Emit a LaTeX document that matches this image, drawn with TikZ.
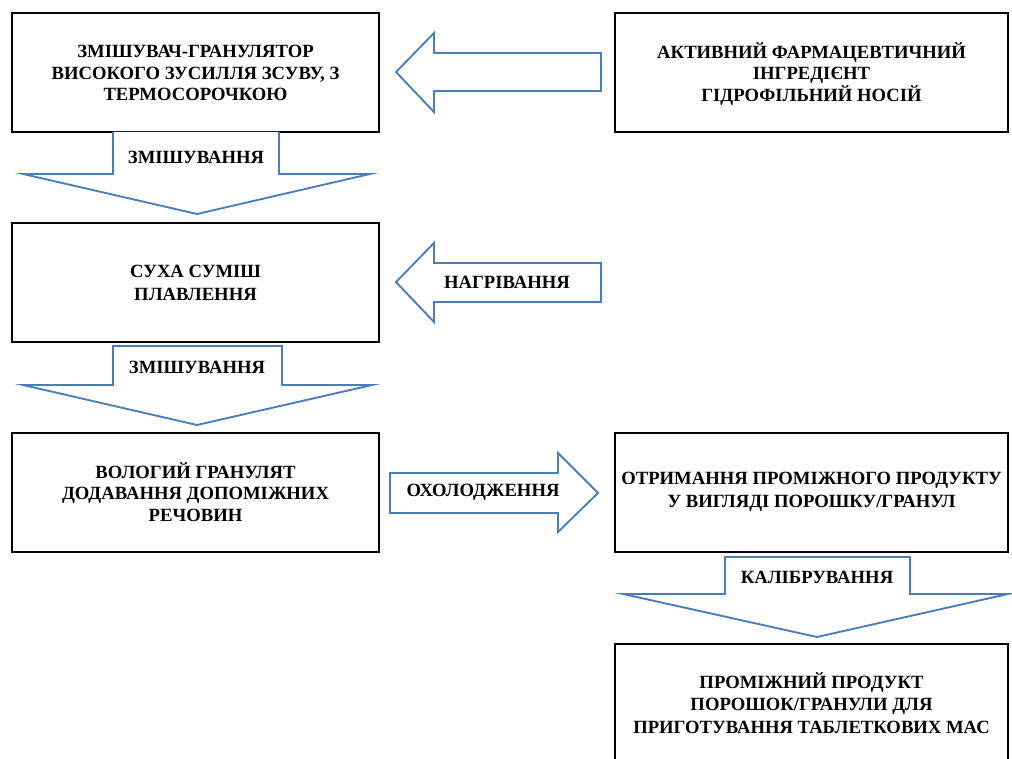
\documentclass[tikz,border=0pt]{standalone}
\usepackage{fontspec}
\setmainfont{Liberation Serif}
\definecolor{arrowblue}{HTML}{4A7EBB}
\tikzset{
  box/.style={draw=black, line width=1.5pt},
  blockarrow/.style={draw=arrowblue, line width=1.4pt, fill=white, line join=miter},
  txt/.style={font=\bfseries\fontsize{14}{16.3}\selectfont, align=center, inner sep=0pt, text=black},
  lbl/.style={font=\bfseries\fontsize{14}{16}\selectfont, inner sep=0pt, text=black}
}
\begin{document}
\begin{tikzpicture}[x=0.75pt, y=-0.75pt]
\useasboundingbox (0,0) rectangle (1012,759);
\clip (0,0) rectangle (1012,759);
% boxes
\draw[box] (12,13) rectangle (379,132);
\draw[box] (615,13) rectangle (1008,132);
\draw[box] (12,223) rectangle (379,342);
\draw[box] (12,433) rectangle (379,552);
\draw[box] (615,433) rectangle (1008,552);
\draw[box] (615,644) rectangle (1008,790);
\node[txt] (b1) at (195.5,73) {ЗМІШУВАЧ-ГРАНУЛЯТОР\\ВИСОКОГО ЗУСИЛЛЯ ЗСУВУ, З\\ТЕРМОСОРОЧКОЮ};
\node[txt] (b2) at (811.5,74) {АКТИВНИЙ ФАРМАЦЕВТИЧНИЙ\\ІНГРЕДІЄНТ\\ГІДРОФІЛЬНИЙ НОСІЙ};
\node[txt, font=\bfseries\fontsize{14}{17}\selectfont] (b3) at (195.5,283) {СУХА СУМІШ\\ПЛАВЛЕННЯ};
\node[txt] (b4) at (195.5,492) {ВОЛОГИЙ ГРАНУЛЯТ\\ДОДАВАННЯ ДОПОМІЖНИХ\\РЕЧОВИН};
\node[txt, font=\bfseries\fontsize{14}{17.3}\selectfont] (b5) at (811.5,491.5) {ОТРИМАННЯ ПРОМІЖНОГО ПРОДУКТУ\\У ВИГЛЯДІ ПОРОШКУ/ГРАНУЛ};
\node[txt, font=\bfseries\fontsize{14}{16.7}\selectfont] (b6) at (811.5,703) {ПРОМІЖНИЙ ПРОДУКТ\\ПОРОШОК/ГРАНУЛИ ДЛЯ\\ПРИГОТУВАННЯ ТАБЛЕТКОВИХ МАС};
% left arrow top
\draw[blockarrow] (601,53) -- (434,53) -- (434,33) -- (396,72) -- (434,112) -- (434,91) -- (601,91) -- cycle;
% left arrow heating
\draw[blockarrow] (601,263) -- (434,263) -- (434,243) -- (396,282) -- (434,322) -- (434,302) -- (601,302) -- cycle;
\node[lbl] (l3) at (507,282) {НАГРІВАННЯ};
% down arrow 1
\draw[blockarrow] (113,132) -- (113,174) -- (23,174) -- (197,214) -- (370,174) -- (279,174) -- (279,132);
\node[lbl] (l1) at (196,157) {ЗМІШУВАННЯ};
% down arrow 2
\draw[blockarrow] (113,346) -- (282,346) -- (282,385) -- (372,385) -- (197,425) -- (23,385) -- (113,385) -- cycle;
\node[lbl] (l2) at (197,367) {ЗМІШУВАННЯ};
% right arrow
\draw[blockarrow] (390,473) -- (558,473) -- (558,453) -- (598,493) -- (558,532) -- (558,513) -- (390,513) -- cycle;
\node[lbl] (l4) at (483,492) {ОХОЛОДЖЕННЯ};
% down arrow 3
\draw[blockarrow] (725,557) -- (910,557) -- (910,594) -- (1008,594) -- (817,637) -- (623,594) -- (725,594) -- cycle;
\node[lbl] (l5) at (817,577) {КАЛІБРУВАННЯ};
\end{tikzpicture}
\end{document}
